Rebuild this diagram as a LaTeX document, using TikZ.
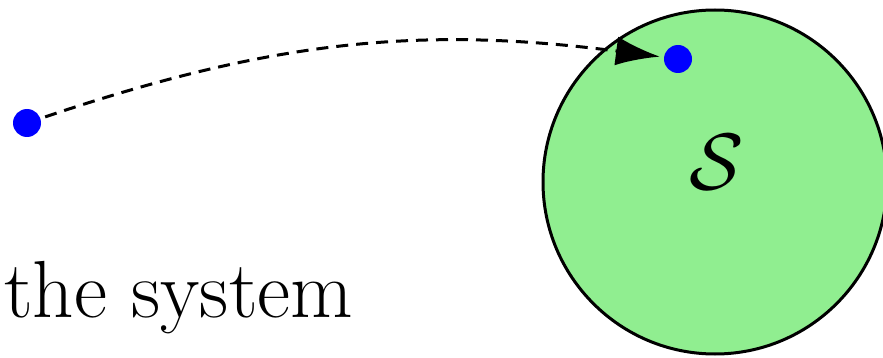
\documentclass[tikz,border=0pt]{standalone}
\usepackage{graphicx}
\usetikzlibrary{arrows.meta}
\definecolor{lgreen}{HTML}{90EE90}
\begin{document}
\begin{tikzpicture}[x=1pt,y=-1pt,
  dot/.style={circle,fill=blue,inner sep=0pt,minimum size=28pt},
  region/.style={circle,draw=black,line width=3pt,fill=lgreen,minimum size=344pt,inner sep=0pt}]
\useasboundingbox (0,0) rectangle (883,358);
\node[region] (sys) at (715,182) {};
\node (lab) at (717,162) {\scalebox{8}{$\mathcal{S}$}};
\node[dot] (a) at (27,123) {};
\node[dot] (b) at (678,59) {};
\node[font=\fontsize{81}{92}\selectfont,anchor=base west,inner sep=0pt] (txt) at (4,317) {the system};
\draw[line width=3pt,dash pattern=on 12pt off 8pt,-{Latex[length=44pt,width=29pt]},shorten <=5pt,shorten >=4pt] (a) to[bend left=13] (b);
\end{tikzpicture}
\end{document}
